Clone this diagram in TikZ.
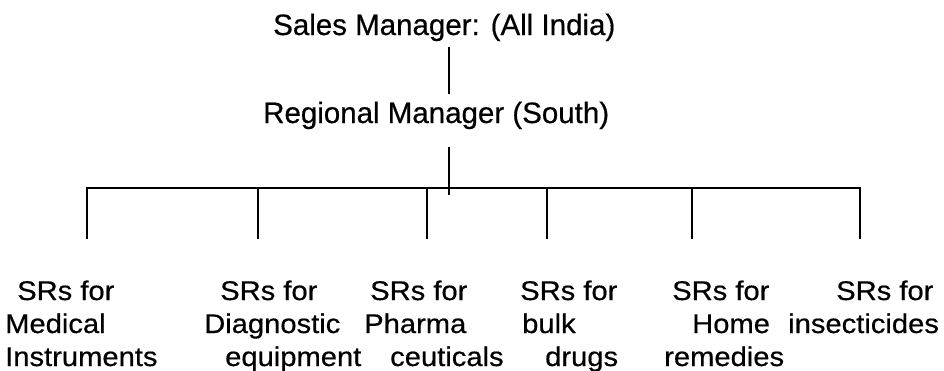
\documentclass[tikz,border=0pt]{standalone}
\usepackage{fontspec}
\setmainfont{Liberation Sans}[FakeBold=0.4]
\newfontfamily\topfont[FakeBold=0.5]{Liberation Sans}
\newfontfamily\lblfont[FakeStretch=1.08,FakeBold=0.5]{Liberation Sans}
\begin{document}
\begin{tikzpicture}[x=1pt,y=-1pt,
  conn/.style={line width=2.6pt,black},
  toptext/.style={anchor=base west,inner sep=0pt,font=\topfont\fontsize{29.5}{34}\selectfont},
  lbl/.style={anchor=base west,inner sep=0pt,font=\lblfont\fontsize{27}{33}\selectfont}]
\useasboundingbox[fill=white] (0,0) rectangle (944,370);
% headings
\node[toptext] (sm) at (273,35) {Sales Manager: (All India)};
\node[toptext] (rm) at (263,123) {Regional Manager (South)};
% connector coordinates
\coordinate (smb) at (449,47);
\coordinate (rmt) at (449,94);
\coordinate (rmb) at (449,147);
\coordinate (bar) at (449,195);
\coordinate (bl) at (87,188);
\coordinate (br) at (860,188);
\foreach \i/\x in {1/87,2/258,3/427,4/547,5/692,6/860}{
  \coordinate (u\i) at (\x,188);
  \coordinate (d\i) at (\x,239);
}
\draw[conn] (smb) -- (rmt);
\draw[conn] (rmb) -- (bar);
\draw[conn,line cap=rect] (bl) -- (br);
\foreach \i in {1,...,6}{\draw[conn] (u\i) -- (d\i);}
% labels
\node[lbl] (a1) at (17,300) {SRs for};
\node[lbl] (a2) at (5,333) {Medical};
\node[lbl] (a3) at (5,366) {Instruments};
\node[lbl] (b1) at (220,300) {SRs for};
\node[lbl] (b2) at (204,333) {Diagnostic};
\node[lbl] (b3) at (225,366) {equipment};
\node[lbl] (c1) at (370,300) {SRs for};
\node[lbl] (c2) at (364,333) {Pharma};
\node[lbl] (c3) at (390,366) {ceuticals};
\node[lbl] (e1) at (520,300) {SRs for};
\node[lbl] (e2) at (522,333) {bulk};
\node[lbl] (e3) at (545,366) {drugs};
\node[lbl] (f1) at (672,300) {SRs for};
\node[lbl] (f2) at (692,333) {Home};
\node[lbl] (f3) at (664,366) {remedies};
\node[lbl] (g1) at (836,300) {SRs for};
\node[lbl] (g2) at (788,333) {insecticides};
\end{tikzpicture}
\end{document}
